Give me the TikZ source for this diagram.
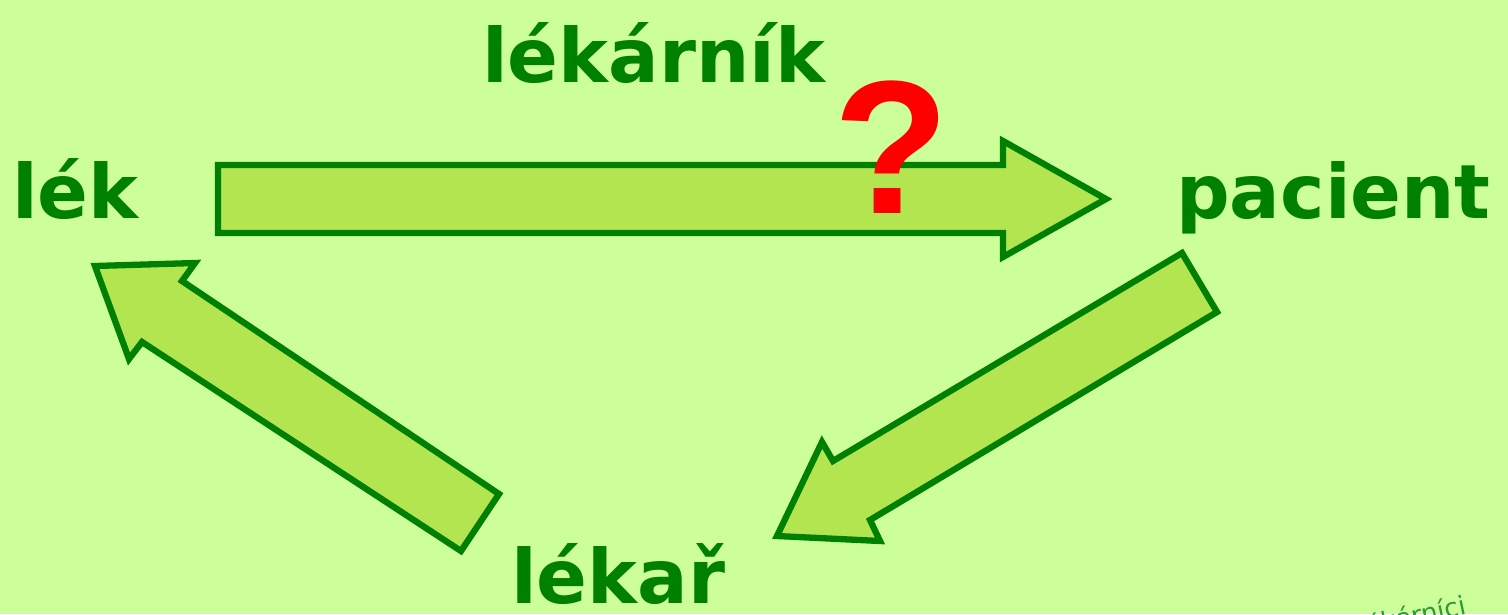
\documentclass[tikz,border=0pt]{standalone}
\usepackage{fontspec}
\setmainfont{DejaVu Sans}
\newfontfamily\qfont{Liberation Sans}
\definecolor{bg}{HTML}{CCFF99}
\definecolor{arrowfill}{HTML}{B3E550}
\definecolor{dgreen}{HTML}{008000}
\definecolor{smallgreen}{HTML}{2E9A3A}
\tikzset{
  word/.style={text=dgreen, font=\fontsize{75}{75}\selectfont\bfseries, inner sep=0pt, anchor=base west},
  blockarrow/.style={draw=dgreen, fill=arrowfill, line width=6.3pt, line join=miter},
}
\begin{document}
\begin{tikzpicture}[x=1pt,y=-1pt]
\clip (0,0) rectangle (1508,614);
\fill[bg] (0,0) rectangle (1508,614);
% top arrow: lek -> pacient
\draw[blockarrow] (218,165) -- (1003,165) -- (1003,141) -- (1106,199) -- (1003,257) -- (1003,233) -- (218,233) -- cycle;
% right arrow: pacient -> lekar
\draw[blockarrow] (1182,253) -- (1217,312) -- (870,520) -- (880,541) -- (777,536) -- (822,442) -- (833,461) -- cycle;
% left arrow: lekar -> lek
\draw[blockarrow] (499,494) -- (461,551) -- (142,342) -- (129,359) -- (95,266) -- (195,263) -- (182,281) -- cycle;
% texts
\node[word] (lek) at (12,218) {lék};
\node[word] (pacient) at (1176,218) {pacient};
\node[word] (lekarnik) at (482,82) {lékárník};
\node[word] (lekar) at (511,603) {lékař};
\node[text=red, font=\qfont\fontsize{190}{190}\selectfont\bfseries, inner sep=0pt, anchor=base west] (q) at (833,213) {?};
\node[text=smallgreen, font=\fontsize{26}{26}\selectfont, inner sep=0pt, anchor=base east, rotate=12] (small) at (1468,614) {lékárníci};
\end{tikzpicture}
\end{document}
